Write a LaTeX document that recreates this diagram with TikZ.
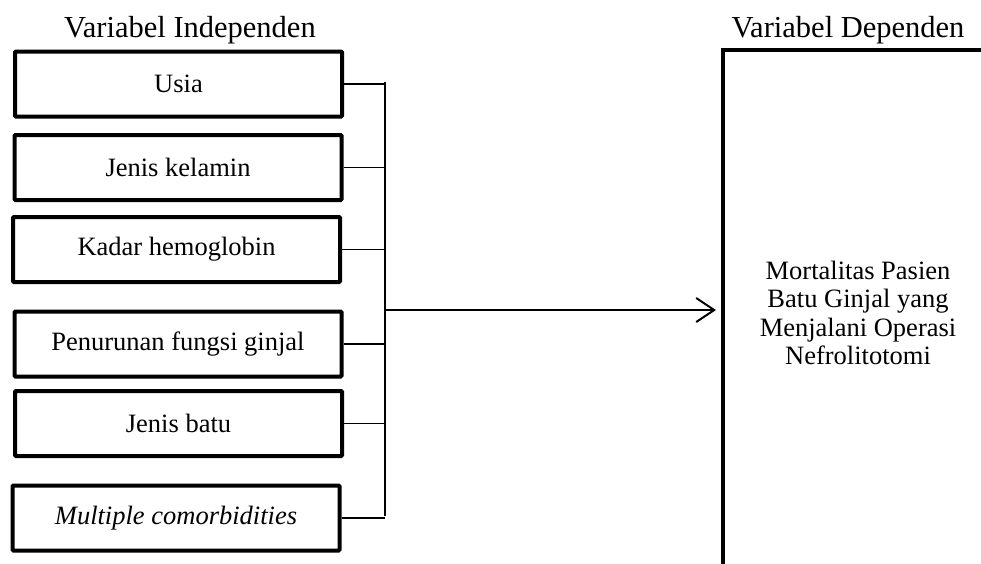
\documentclass[tikz,border=0pt]{standalone}
\usepackage{fontspec}
\setmainfont{Liberation Serif}
\usetikzlibrary{arrows.meta}
\tikzset{
  varbox/.style={draw, line width=4pt, rounded corners=1pt, minimum width=327pt,
    minimum height=65pt, inner sep=0pt, align=center,
    font=\fontsize{26.5}{29}\selectfont},
  title/.style={font=\fontsize{30.5}{33}\selectfont, inner sep=0pt},
  link/.style={line width=1.6pt},
}
\begin{document}
\begin{tikzpicture}[x=1pt,y=-1pt]
\useasboundingbox (0,0) rectangle (981,563);
\clip (0,0) rectangle (981,563);

% column titles
\node[title] (tindep) at (190,30) {Variabel Independen};
\node[title] (tdep) at (848,30) {Variabel Dependen};

% independent variables
\node[varbox] (usia) at (178.5,84) {Usia};
\node[varbox] (jk) at (178,167.5) {Jenis kelamin};
\node[varbox] (hb) at (176.5,249.5) {Kadar hemoglobin};
\node[varbox] (ginjal) at (178,344) {Penurunan fungsi ginjal};
\node[varbox] (batu) at (178.5,423.5) {Jenis batu};
\node[varbox] (komor) at (176,518) {\itshape Multiple comorbidities};

% dependent variable (box runs past the page edge)
\node[draw, line width=4pt, minimum width=270pt, minimum height=526pt,
  inner sep=0pt, align=center, font=\fontsize{26.5}{28.5}\selectfont]
  (dep) at (858,313) {Mortalitas Pasien\\Batu Ginjal yang\\Menjalani Operasi\\Nefrolitotomi};

% collecting bar
\coordinate (bartop) at (385,82);
\coordinate (barbot) at (385,516);
\coordinate (hub) at (385,310);
\draw[link] (bartop) -- (barbot);
\foreach \n in {usia,jk,hb,ginjal,batu,komor}
  \draw[link] (\n.east) -- (\n.east -| bartop);

% arrow to the dependent variable
\coordinate (tip) at ([xshift=-5pt]hub -| dep.west);
\draw[link, -{Straight Barb[length=18pt,width=24pt,line width=2pt]}]
  (hub) -- (tip);
\end{tikzpicture}
\end{document}
